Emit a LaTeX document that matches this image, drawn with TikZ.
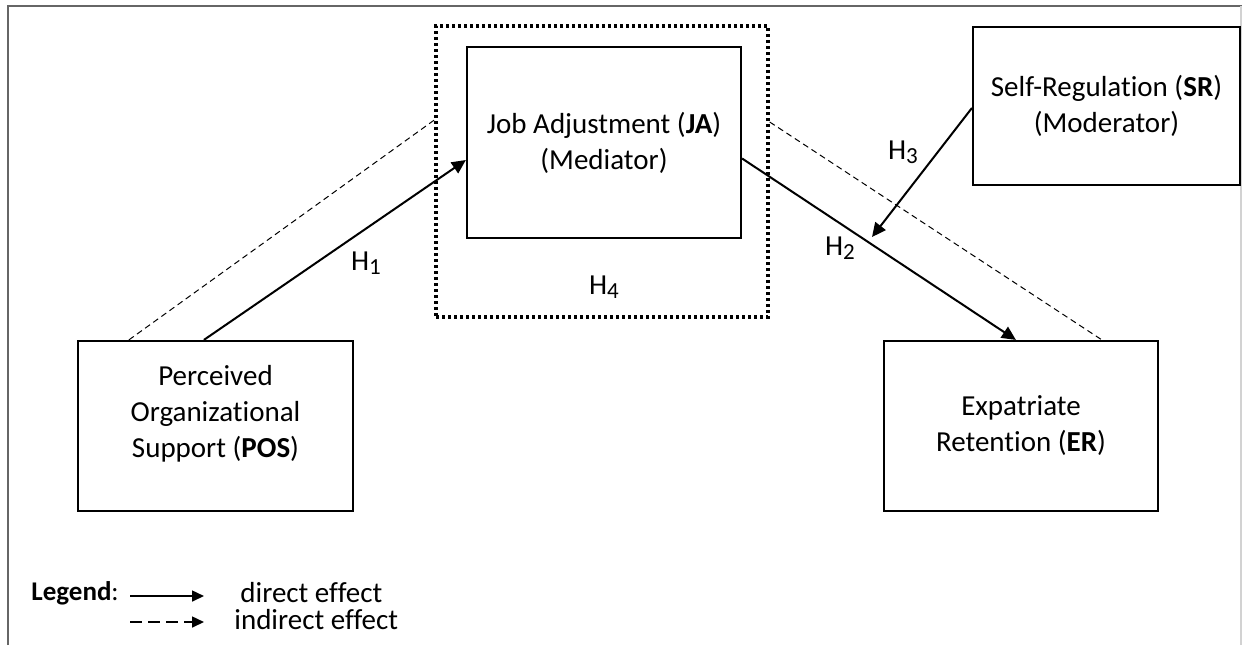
\documentclass[tikz,border=0pt]{standalone}
\usepackage{fontspec}
\setmainfont{Carlito}[Ligatures=NoCommon]
\usetikzlibrary{arrows.meta, positioning, calc}

\newcommand{\hyp}[1]{H\raisebox{-0.3ex}{\fontsize{11.5}{11.5}\selectfont #1}}

\begin{document}
\begin{tikzpicture}[>={Triangle[length=7pt, width=6.5pt]}, x=0.5pt, y=-0.5pt,
          font=\fontsize{14.5}{18}\selectfont,
          box/.style={draw, line width=1.1pt, inner sep=0pt, align=center},
          grp/.style={draw, line width=1.7pt, dash pattern=on 1.7pt off 1.3pt, inner sep=0pt},
          ar/.style={->, line width=1pt},
          dl/.style={line width=0.5pt, dash pattern=on 3pt off 2pt},
          lab/.style={inner sep=0pt}]
        \useasboundingbox (0,0) rectangle (1242,645);
        % frame of the figure
        \draw[gray!80!black, line width=0.8pt] (8,645) -- (8,6) -- (1242,6);
        \draw[gray!35, line width=0.6pt] (1241,6) -- (1241,645);
        % constructs
        \node[box, minimum width=137.5pt, minimum height=85pt] (pos) at (215.5,426) {};
        \node[lab, align=center] (post) at (215.5,414) {Perceived\\Organizational\\Support (\textbf{POS})};
        \node[box, minimum width=137pt, minimum height=95.5pt] (ja) at (604,142.5) {Job Adjustment (\textbf{JA})\\(Mediator)};
        \node[grp, minimum width=166pt, minimum height=145.5pt] (med) at (602,171.5) {};
        \node[box, minimum width=133.5pt, minimum height=79pt] (sr) at (1106.5,106) {Self-Regulation (\textbf{SR})\\(Moderator)};
        \node[box, minimum width=137pt, minimum height=85pt] (er) at (1021,426) {Expatriate\\Retention (\textbf{ER})};
        % indirect path
        \draw[dl] ([xshift=26pt]pos.north west) -- ([yshift=25.75pt]med.west);
        \draw[dl] ([yshift=24.75pt]med.east) -- ([xshift=109.5pt]er.north west);
        % direct paths
        \draw[ar] ([xshift=63.5pt]pos.north west) -- ([yshift=-8.75pt]ja.west);
        \draw[ar] ([yshift=-8pt]ja.east) -- ([xshift=66.5pt]er.north west);
        \coordinate (mod) at (872,237);
        \draw[ar] ([yshift=-1pt]sr.west) -- (mod);
        \node[lab] (h1) at (366,263) {\hyp{1}};
        \node[lab] (h2) at (840,248) {\hyp{2}};
        \node[lab] (h3) at (903,152) {\hyp{3}};
        \node[lab] (h4) at (604,287) {\hyp{4}};
        % legend
        \node[lab, anchor=west, font=\fontsize{13.5}{18}\selectfont] (leg) at (31,593) {\textbf{Legend}:};
        \coordinate (d0) at (130,596); \coordinate (d1) at (204,596);
        \coordinate (i0) at (130,622); \coordinate (i1) at (204,622);
        \draw[->, line width=0.8pt, >={Triangle[length=6pt, width=5.5pt]}] (d0) -- (d1);
        \draw[->, line width=0.8pt, dash pattern=on 6pt off 3pt, >={Triangle[length=6pt, width=5.5pt]}] (i0) -- (i1);
        \node[lab, anchor=west] (de) at (240,593) {direct effect};
        \node[lab, anchor=west] (ie) at (234,620) {indirect effect};
      \end{tikzpicture}
\end{document}
